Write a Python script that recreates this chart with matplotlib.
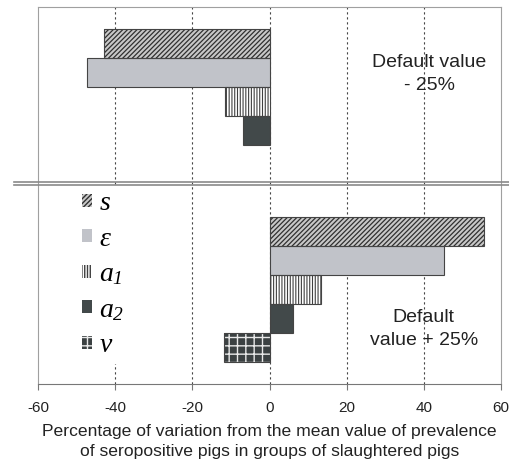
import numpy as np
import matplotlib
matplotlib.use('Agg')
import matplotlib.pyplot as plt
from matplotlib.lines import Line2D

# values (% variation), top group = default -25%, bottom = default +25%
params = ['s', 'eps', 'a1', 'a2', 'v']
labels = [r'$s$', r'$\varepsilon$', r'$a_{\mathsf{1}}$', r'$a_{\mathsf{2}}$', r'$v$']
minus25 = [-42.8, -47.3, -11.6, -6.8, 0.0]
plus25 = [55.5, 45.1, 13.4, 6.1, -11.7]
groups = ['Default value\n- 25%', 'Default\nvalue + 25%']
xticks = [-60, -40, -20, 0, 20, 40, 60]

face = ['#c8c8c8', '#c1c3c9', 'white', '#42494a', '#3b4142']
hatch = ['///////', None, '||||||', None, '++']
hcol = ['#303030', '#404040', '#404040', '#303030', '#e8e8e8']
hlw = [0.9, 0.8, 0.8, 0.8, 1.0]

plt.rcParams['font.family'] = ['Liberation Sans', 'DejaVu Sans']
plt.rcParams['mathtext.fontset'] = 'custom'
plt.rcParams['mathtext.it'] = 'Liberation Serif:italic'
plt.rcParams['mathtext.sf'] = 'Liberation Serif:italic'
plt.rcParams['mathtext.rm'] = 'Liberation Serif'

W, H = 509, 466
fig = plt.figure(figsize=(W/100, H/100), dpi=100)
ax = fig.add_axes([38/W, (H-384)/H, (501-38)/W, (384-7)/H])

n = len(params)
bh = 1.0/(n+1.5)
data = np.array([minus25, plus25])
handles = []
for i in range(n):
    y = np.arange(2) + (i - (n-1)/2)*bh
    vals = data[:, i]
    with plt.rc_context({'hatch.linewidth': hlw[i]}):
        b = ax.barh(y, vals, height=bh, color=face[i], edgecolor=hcol[i],
                    hatch=hatch[i], linewidth=0, zorder=3)
    # outline
    ax.barh(y[vals != 0], vals[vals != 0], height=bh, fill=False,
            edgecolor='#444444', linewidth=0.8, zorder=4)
    handles.append(b)

ax.set_ylim(1.5, -0.5)
ax.set_xlim(-60, 60)
ax.set_xticks(xticks)
ax.set_xticklabels([str(t) for t in xticks], fontsize=11, color='#222222')
ax.set_yticks([])
ax.tick_params(axis='x', direction='out', length=4, color='#777777', pad=8)
for t in xticks[1:-1]:
    ax.axvline(t, color='#444444', lw=0.8, ls=(0, (2, 2.5)), zorder=1)
for s in ['left', 'right', 'top']:
    ax.spines[s].set_color('#a0a0a0')
ax.spines['bottom'].set_color('#777777')

ax.set_xlabel('Percentage of variation from the mean value of prevalence\n'
              'of seropositive pigs in groups of slaughtered pigs',
              fontsize=12.6, color='#222222', labelpad=7, linespacing=1.35)

ax.text(41.5, -0.145, groups[0], ha='center', va='center', fontsize=14,
        color='#222222', linespacing=1.45, zorder=5)
ax.text(40, 1.206, groups[1], ha='center', va='center', fontsize=14,
        color='#222222', linespacing=1.45, zorder=5)

# double separator line between the two scenarios
for yy in [(H-181.5)/H, (H-184.5)/H]:
    fig.add_artist(Line2D([14/W, 1.0], [yy, yy], color='#8a8a8a', lw=1.2))

leg = ax.legend(handles, labels, loc='upper left', bbox_to_anchor=(0.053, 0.565),
                fontsize=20, handlelength=0.35, handleheight=0.35,
                handletextpad=0.25, labelspacing=0.34, frameon=True,
                facecolor='white', edgecolor='none', framealpha=1,
                borderpad=0.2)
leg.set_zorder(6)

fig.savefig('out.png', dpi=100, facecolor='white')
